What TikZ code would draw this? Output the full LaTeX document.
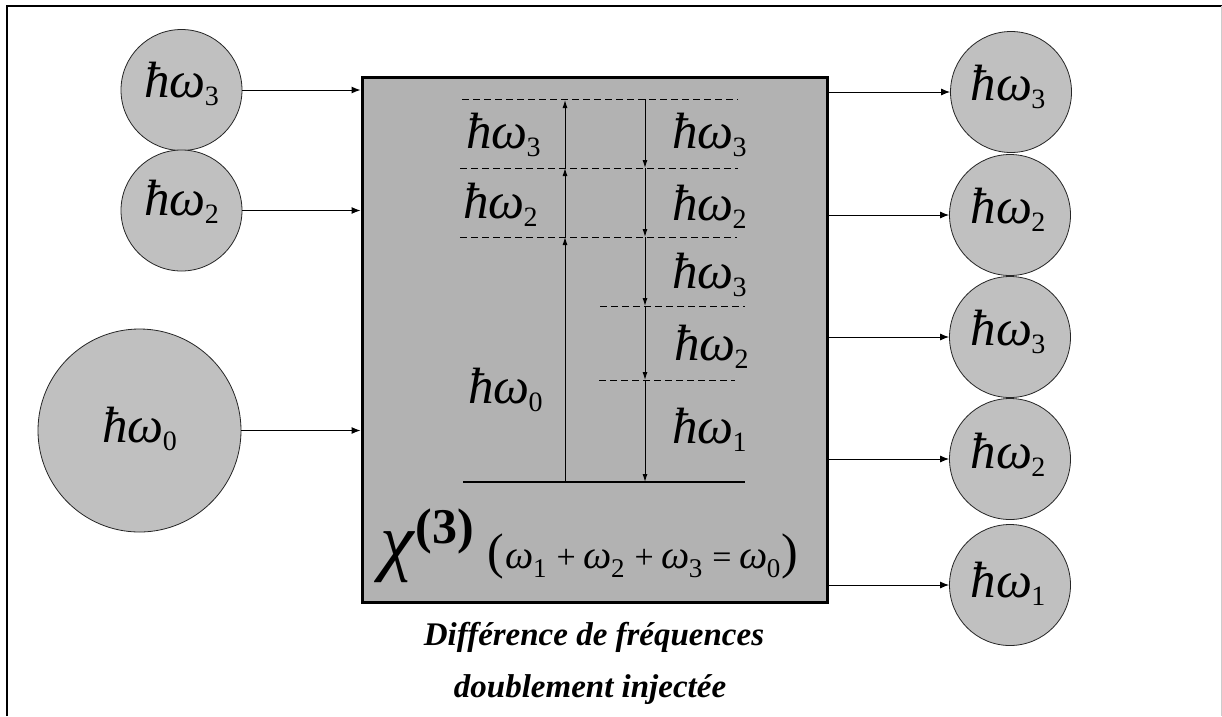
\documentclass[tikz,border=0pt]{standalone}
\usepackage{fontspec}
\usetikzlibrary{arrows.meta}
\newfontfamily\capfont{Liberation Serif}
\newfontfamily\symfont{Liberation Serif}
\definecolor{circfill}{RGB}{192,192,192}
\definecolor{boxfill}{RGB}{178,178,178}
\newcommand\hw[1]{{\itshape ħω}\kern-1pt\raisebox{-8pt}{\fontsize{28}{28}\selectfont #1}}
\newcommand\wsub[1]{{\itshape ω}\kern-1pt\raisebox{-9pt}{\fontsize{27}{27}\selectfont #1}}
\tikzset{
 photon/.style={circle, draw=black!85, line width=0.8pt, fill=circfill, minimum size=121pt, inner sep=0pt},
 bigphoton/.style={photon, minimum size=203pt},
 crystal/.style={rectangle, draw=black, line width=3pt, fill=boxfill, minimum width=465pt, minimum height=525pt, inner sep=0pt},
 lbl/.style={inner sep=0pt, anchor=base, font=\symfont\fontsize{51}{52}\selectfont},
 lblw/.style={lbl, anchor=base west},
 feed/.style={line width=1pt, -{Latex[length=9pt,width=7pt]}},
 trans/.style={line width=1pt, -{Latex[length=8pt,width=5pt]}},
 level/.style={line width=1pt, dash pattern=on 7pt off 4pt},
 ground/.style={line width=1.2pt},
 captext/.style={inner sep=0pt, anchor=base, font=\capfont\bfseries\itshape\fontsize{33}{34}\selectfont},
}
\begin{document}
\begin{tikzpicture}[x=1pt,y=-1pt]
\useasboundingbox (0,0) rectangle (1222,716);
\fill[white] (0,0) rectangle (1222,716);
% frame
\draw[line width=2pt] (7,716) -- (7,6) -- (1222,6);
\draw[black!20, line width=1pt] (1221,6) -- (1221,716);

% crystal box
\node[crystal] (box) at (594.5,339.5) {};

% input photons
\node[photon] (l3) at (181.5,90) {};
\node[photon] (l2) at (181.5,210.5) {};
\node[bigphoton] (l0) at (139.5,430.5) {};
\node[lbl] (tl3) at (181.5,97) {\hw{3}};
\node[lbl] (tl2) at (181.5,215) {\hw{2}};
\node[lbl] (tl0) at (139.5,442) {\hw{0}};

% output photons
\node[photon] (r3a) at (1011,92) {};
\node[photon] (r2a) at (1010,215) {};
\node[photon] (r3b) at (1010,337) {};
\node[photon] (r2b) at (1010,459) {};
\node[photon] (r1) at (1010,585) {};
\node[lbl] (tr3a) at (1008,100) {\hw{3}};
\node[lbl] (tr2a) at (1008,223) {\hw{2}};
\node[lbl] (tr3b) at (1008,345) {\hw{3}};
\node[lbl] (tr2b) at (1008,468) {\hw{2}};
\node[lbl] (tr1) at (1008,597) {\hw{1}};

% feed arrows
\draw[feed] (l3.east) -- (l3.east -| box.west);
\draw[feed] (l2.east) -- (l2.east -| box.west);
\draw[feed] (l0.east) -- (l0.east -| box.west);
\draw[feed] (box.east |- r3a.west) -- (r3a.west);
\draw[feed] (box.east |- r2a.west) -- (r2a.west);
\draw[feed] (box.east |- r3b.west) -- (r3b.west);
\draw[feed] (box.east |- r2b.west) -- (r2b.west);
\draw[feed] (box.east |- r1.west) -- (r1.west);

% energy levels
\draw[level] (462,99) -- (738,99);
\draw[level] (460,168) -- (738,168);
\draw[level] (460,237) -- (737,237);
\draw[level] (600,306) -- (745,306);
\draw[level] (599,380) -- (735,380);
\draw[ground] (463,482) -- (745,482);

% transition points
\coordinate (u0) at (565,482);
\coordinate (u1) at (565,237);
\coordinate (u2) at (565,168);
\coordinate (u3) at (565,100);
\coordinate (d0) at (645,99);
\coordinate (d1) at (645,168);
\coordinate (d2) at (645,237);
\coordinate (d3) at (645,306);
\coordinate (d4) at (645,380);
\coordinate (d5) at (645,482);
\draw[trans] (u0) -- (u1);
\draw[trans] (u1) -- (u2);
\draw[trans] (u2) -- (u3);
\draw[trans] (d0) -- (d1);
\draw[trans] (d1) -- (d2);
\draw[trans] (d2) -- (d3);
\draw[trans] (d3) -- (d4);
\draw[trans] (d4) -- (d5);

% inner labels
\node[lblw] (il3) at (466,148) {\hw{3}};
\node[lblw] (il2) at (463,218) {\hw{2}};
\node[lblw] (il0) at (468,403) {\hw{0}};
\node[lblw] (ir3a) at (672,148) {\hw{3}};
\node[lblw] (ir2a) at (672,220) {\hw{2}};
\node[lblw] (ir3b) at (672,288) {\hw{3}};
\node[lblw] (ir2b) at (674,360) {\hw{2}};
\node[lblw] (ir1) at (672,443) {\hw{1}};

% susceptibility
\node[inner sep=0pt, anchor=base west, font=\symfont\fontsize{76}{78}\selectfont] (chi) at (380,566) {{\itshape χ}\kern2pt\raisebox{23pt}{\fontsize{50}{50}\selectfont\bfseries (3)}};
\node[inner sep=0pt, anchor=base west, font=\symfont\fontsize{40}{42}\selectfont] (cond) at (487,568) {{\fontsize{50}{50}\selectfont(}\kern2pt\wsub{1}\hspace{10pt}{\fontsize{34}{34}\selectfont +}\hspace{8pt}\wsub{2}\hspace{10pt}{\fontsize{34}{34}\selectfont +}\hspace{8pt}\wsub{3}\hspace{10pt}{\fontsize{34}{34}\selectfont =}\hspace{8pt}\wsub{0}\kern1pt{\fontsize{50}{50}\selectfont)}};

% caption
\node[captext] (c1) at (594,645) {Différence de fréquences};
\node[captext] (c2) at (590,697) {doublement injectée};
\end{tikzpicture}
\end{document}
